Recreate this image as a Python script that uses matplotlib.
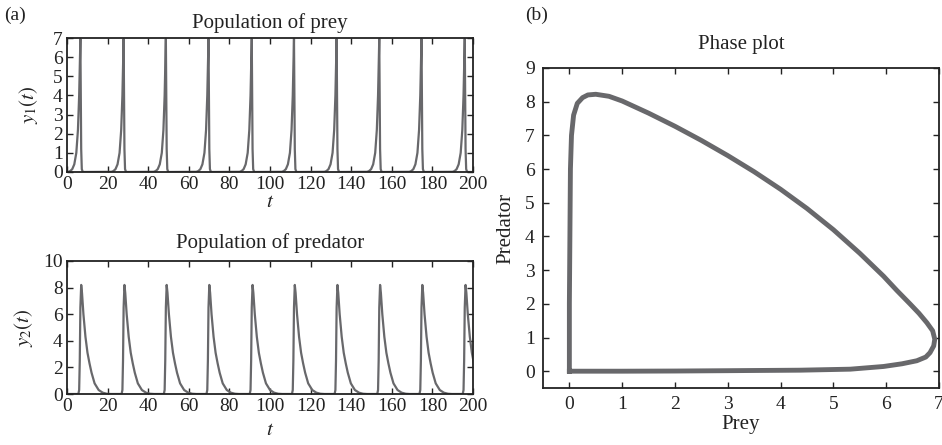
import matplotlib
matplotlib.use("Agg")
import matplotlib.pyplot as plt
import numpy as np

plt.rcParams["font.family"] = "Liberation Serif"
plt.rcParams["mathtext.fontset"] = "stix"

# peak times of the prey spikes
peak_times = [6.6, 27.9, 48.7, 69.7, 91.0, 111.8, 132.8, 153.8, 174.6, 195.9]

# shape of one prey spike (offset from peak, value)
prey_off = [-6.0, -5.0, -4.0, -3.0, -2.0, -1.2, -0.6, -0.2, 0.0, 0.2, 0.4, 0.7, 1.2]
prey_val = [0.01, 0.05, 0.15, 0.4, 1.0, 2.2, 4.0, 6.0, 6.95, 4.0, 1.2, 0.15, 0.0]

# shape of one predator spike (offset from prey peak, value)
pred_off = [-1.0, -0.6, -0.3, 0.0, 0.4, 0.8, 1.5, 2.5, 3.5, 4.5, 5.5, 7.0, 9.0, 11.0, 13.0, 15.0]
pred_val = [0.0, 0.3, 2.5, 6.5, 8.2, 7.6, 6.0, 4.3, 3.1, 2.3, 1.6, 0.8, 0.3, 0.1, 0.02, 0.0]

# phase loop (prey, predator)
phase_prey = [0.0, 1.0, 2.0, 3.0, 3.42, 4.37, 5.32, 5.95, 6.3, 6.58, 6.75, 6.83, 6.9, 6.92,
              6.88, 6.77, 6.62, 6.45, 6.2, 5.95, 5.5, 5.0, 4.5, 4.0, 3.5, 3.0, 2.5,
              2.0, 1.5, 1.0, 0.75, 0.5, 0.35, 0.25, 0.15, 0.08, 0.04,
              0.02, 0.01, 0.0, 0.0]
phase_pred = [0.0, 0.0, 0.005, 0.015, 0.02, 0.03, 0.06, 0.14, 0.22, 0.31, 0.42, 0.55, 0.75, 0.95,
              1.2, 1.44, 1.72, 2.0, 2.4, 2.82, 3.5, 4.2, 4.83, 5.4, 5.92, 6.4, 6.85,
              7.27, 7.66, 8.02, 8.16, 8.22, 8.2, 8.12, 7.95, 7.6, 7.0,
              6.0, 4.0, 2.0, 0.0]

t_end = 200


def build_series(offsets, values, start_val):
    t = [0.0]
    y = [start_val]
    for p in peak_times:
        for o, v in zip(offsets, values):
            if p + o > t[-1]:
                t.append(p + o)
                y.append(v)
    t.append(t_end)
    y.append(y[-1] if t[-1] < t_end else 0.0)
    return np.array(t), np.array(y)


t_prey, y_prey = build_series(prey_off, prey_val, 0.0)
t_pred, y_pred = build_series(pred_off, pred_val, 0.0)

line_color = "#68686b"
ink = "#222222"

fig = plt.figure(figsize=(9.42, 4.45), dpi=100)
ax1 = fig.add_axes([0.0711, 0.6135, 0.4311, 0.3011])
ax2 = fig.add_axes([0.0711, 0.1146, 0.4311, 0.2989])
ax3 = fig.add_axes([0.5764, 0.128, 0.4204, 0.7192])


def style(ax, pad):
    ax.tick_params(direction="in", top=True, right=True, labelsize=14, colors=ink,
                   length=4, width=1.0, pad=pad)
    for s in ax.spines.values():
        s.set_linewidth(1.3)
        s.set_color(ink)


ax1.plot(t_prey, y_prey, color=line_color, lw=1.6)
ax1.set_xlim(0, 200)
ax1.set_ylim(0, 7)
ax1.set_xticks(range(0, 201, 20))
ax1.set_yticks(range(0, 8))
ax1.set_title("Population of prey", fontsize=15, color=ink, pad=7)
ax1.set_xlabel("$t$", fontsize=15, color=ink, labelpad=0)
ax1.set_ylabel("$y_1(t)$", fontsize=15, color=ink, labelpad=9)
style(ax1, 3)

ax2.plot(t_pred, y_pred, color=line_color, lw=1.6)
ax2.set_xlim(0, 200)
ax2.set_ylim(0, 10)
ax2.set_xticks(range(0, 201, 20))
ax2.set_yticks(range(0, 11, 2))
ax2.set_title("Population of predator", fontsize=15, color=ink, pad=9)
ax2.set_xlabel("$t$", fontsize=15, color=ink, labelpad=4)
ax2.set_ylabel("$y_2(t)$", fontsize=15, color=ink, labelpad=6)
style(ax2, 3)

ax3.plot(phase_prey, phase_pred, color=line_color, lw=3.5, solid_joinstyle="round")
ax3.set_xlim(-0.5, 7)
ax3.set_ylim(-0.5, 9)
ax3.set_xticks(range(0, 8))
ax3.set_yticks(range(0, 10))
ax3.set_title("Phase plot", fontsize=15, color=ink, pad=14)
ax3.set_xlabel("Prey", fontsize=15, color=ink, labelpad=1)
ax3.set_ylabel("Predator", fontsize=15, color=ink, labelpad=7)
style(ax3, 6)

fig.text(0.004, 0.955, "(a)", fontsize=14, color=ink)
fig.text(0.557, 0.955, "(b)", fontsize=14, color=ink)

fig.savefig("out.png", dpi=100)
